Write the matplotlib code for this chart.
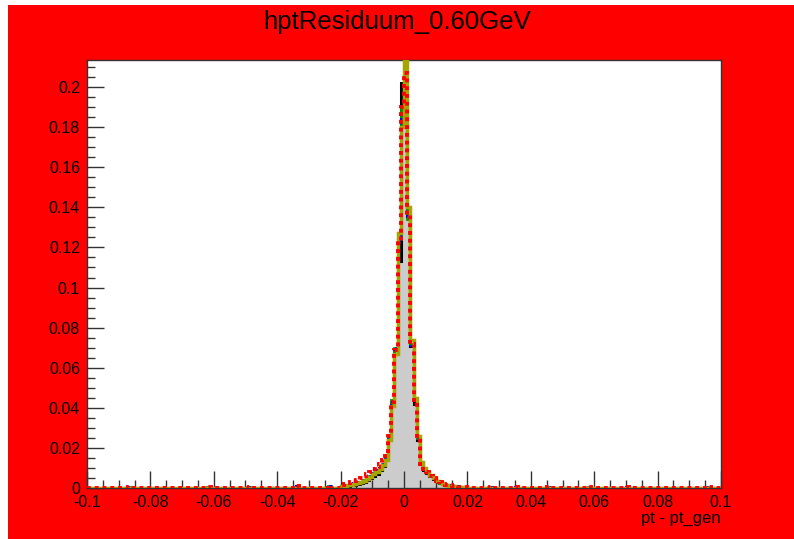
import numpy as np
import matplotlib
matplotlib.use("Agg")
from matplotlib import pyplot as plt
from matplotlib.patches import Rectangle
from matplotlib.ticker import MultipleLocator, FixedLocator, FixedFormatter

plt.rcParams['font.family'] = ['Liberation Sans', 'DejaVu Sans']

# binning: 200 bins in [-0.1, 0.1]; values given for the central 40 bins [-0.02, 0.02]
edges = np.linspace(-0.1, 0.1, 201)
core_start = 80  # index of bin [-0.020, -0.019]

h_gray = [0.0008, 0.001, 0.0012, 0.0014, 0.0016, 0.002, 0.0025, 0.003, 0.004, 0.005,
          0.006, 0.007, 0.009, 0.011, 0.015, 0.025, 0.043, 0.069, 0.113, 0.202,
          0.196, 0.136, 0.071, 0.042, 0.024, 0.012, 0.009, 0.0075, 0.006, 0.0045,
          0.0035, 0.0025, 0.002, 0.0015, 0.0012, 0.001, 0.0008, 0.0006, 0.0005, 0.0004]
h_green = [0.001, 0.0012, 0.0015, 0.0018, 0.002, 0.0028, 0.0032, 0.004, 0.005, 0.006,
           0.0075, 0.0085, 0.010, 0.012, 0.015, 0.026, 0.044, 0.070, 0.124, 0.190,
           0.205, 0.134, 0.072, 0.044, 0.025, 0.013, 0.0095, 0.008, 0.0062, 0.0048,
           0.0036, 0.0027, 0.002, 0.0016, 0.0012, 0.0009, 0.0008, 0.0006, 0.0004, 0.0004]
h_blue = [0.0012, 0.0014, 0.0016, 0.002, 0.0024, 0.003, 0.0036, 0.0042, 0.0052, 0.0062,
          0.0078, 0.009, 0.0102, 0.0122, 0.0152, 0.025, 0.043, 0.070, 0.122, 0.186,
          0.203, 0.135, 0.071, 0.043, 0.025, 0.0125, 0.009, 0.0078, 0.006, 0.0046,
          0.0034, 0.0026, 0.0021, 0.0016, 0.0013, 0.001, 0.0008, 0.0006, 0.0005, 0.0004]
h_yellow = [0.0009, 0.0011, 0.0013, 0.0016, 0.0019, 0.0024, 0.003, 0.0036, 0.0045, 0.0055,
            0.0068, 0.008, 0.0095, 0.0115, 0.014, 0.024, 0.041, 0.067, 0.127, 0.180,
            0.230, 0.140, 0.074, 0.045, 0.026, 0.013, 0.0098, 0.0082, 0.0064, 0.005,
            0.0037, 0.0028, 0.0021, 0.0016, 0.0012, 0.0009, 0.0007, 0.0006, 0.0004, 0.0003]
h_red = [0.0015, 0.002, 0.0025, 0.003, 0.0035, 0.004, 0.005, 0.006, 0.007, 0.008,
         0.0095, 0.0105, 0.012, 0.014, 0.016, 0.026, 0.043, 0.069, 0.123, 0.190,
         0.207, 0.136, 0.072, 0.043, 0.025, 0.012, 0.0095, 0.0078, 0.0062, 0.0048,
         0.0036, 0.0028, 0.0022, 0.0017, 0.0013, 0.001, 0.0008, 0.0006, 0.0005, 0.0004]

# sparse entries in the far tails
tail_x = [-0.087, -0.062, -0.048, -0.033, -0.024, 0.027, 0.036, 0.045, 0.058, 0.071, 0.097]
tail_y = [0.0005, 0.0004, 0.0006, 0.0009, 0.0012, 0.0006, 0.0005, 0.0004, 0.0005, 0.0004, 0.0004]

def full(core, with_tail=False):
    v = np.zeros(200)
    v[core_start:core_start + len(core)] = core
    if with_tail:
        for x, y in zip(tail_x, tail_y):
            v[np.searchsorted(edges, x) - 1] = y
    return v

fig = plt.figure(figsize=(7.94, 5.39), dpi=100)
fig.patch.set_facecolor('white')
bg = fig.add_axes([0, 0, 1, 1], zorder=-10)
bg.set_axis_off()
bg.add_patch(Rectangle((8 / 794, 0), 1, 1 - 5 / 539, transform=bg.transAxes,
                       facecolor='#ff0000', edgecolor='none'))
ax = fig.add_axes([87 / 794, 51 / 539, 634 / 794, 428 / 539], zorder=1)
ax.set_facecolor('white')

ax.stairs(full(h_gray), edges, fill=True, color='#cccccc', zorder=1)
ax.stairs(full(h_gray), edges, color='black', lw=2.2, zorder=2)
ax.stairs(full(h_green, True), edges, color='#009900', lw=2.0, zorder=3)
ax.stairs(full(h_blue, True), edges, color='#0000ff', lw=1.5, ls=(0, (1, 1)), zorder=4)
ax.stairs(full(h_yellow), edges, color='#a5a500', lw=2.5, zorder=5)
ax.stairs(full(h_red, True), edges, color='#ff0000', lw=2.8, ls=(0, (1, 1)), zorder=6)

ax.set_xlim(-0.1, 0.1)
ax.set_ylim(0, 0.2135)

xt = [-0.1, -0.08, -0.06, -0.04, -0.02, 0, 0.02, 0.04, 0.06, 0.08, 0.1]
ax.xaxis.set_major_locator(FixedLocator(xt))
ax.xaxis.set_major_formatter(FixedFormatter([f"{v:g}" for v in xt]))
ax.xaxis.set_minor_locator(MultipleLocator(0.005))
yt = [0, 0.02, 0.04, 0.06, 0.08, 0.1, 0.12, 0.14, 0.16, 0.18, 0.2]
ax.yaxis.set_major_locator(FixedLocator(yt))
ax.yaxis.set_major_formatter(FixedFormatter([f"{v:g}" for v in yt]))
ax.yaxis.set_minor_locator(MultipleLocator(0.005))

ax.tick_params(which='both', direction='in', top=False, right=False, labelsize=11.5,
               color='#333333', width=1)
ax.tick_params(which='major', length=12, pad=5)
ax.tick_params(which='minor', length=6)
for s in ax.spines.values():
    s.set_color('#333333')
    s.set_linewidth(1)

fig.text(0.5, 1 - 22 / 539, "hptResiduum_0.60GeV", ha='center', va='center', fontsize=18.5)
fig.text(721 / 794, 1 - 518 / 539, "pt - pt_gen", ha='right', va='center', fontsize=12)

fig.savefig("out.png", dpi=100)
